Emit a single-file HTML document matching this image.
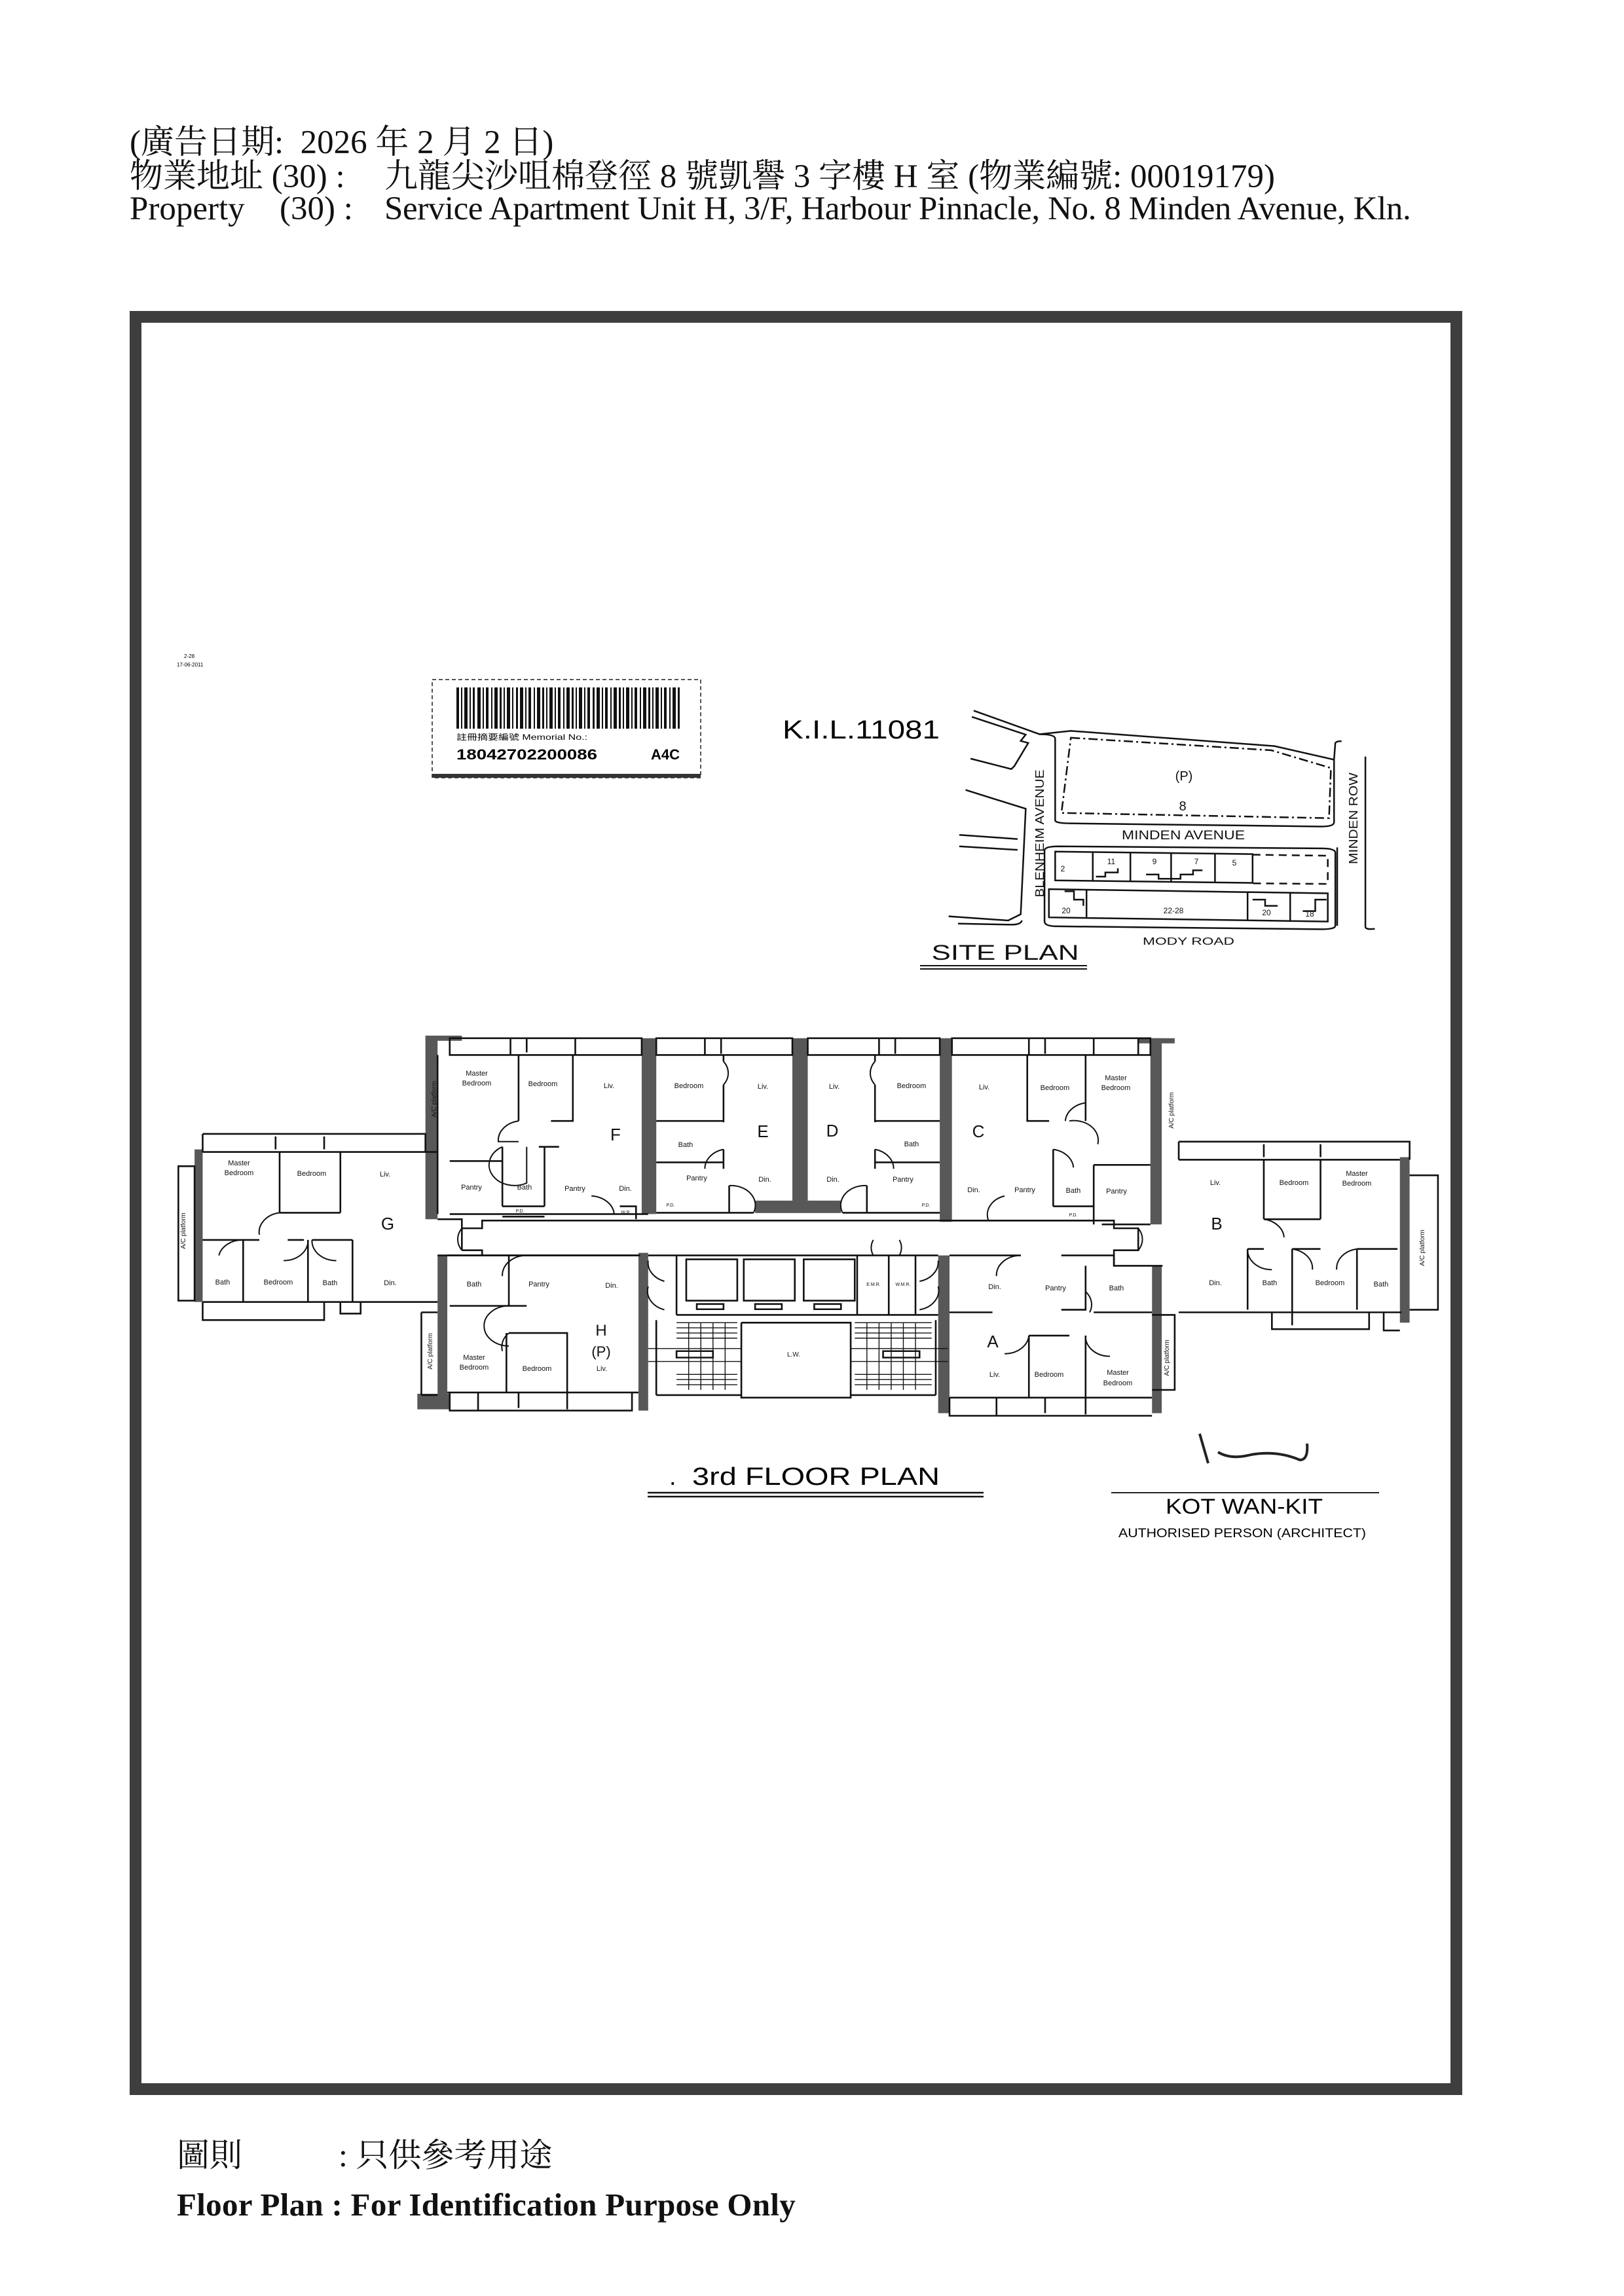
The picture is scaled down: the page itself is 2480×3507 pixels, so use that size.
<!DOCTYPE html>
<html><head><meta charset="utf-8">
<style>
html,body{margin:0;padding:0;background:#fff;}
body{width:2480px;height:3507px;position:relative;overflow:hidden;}
.t{position:absolute;white-space:nowrap;color:#111;}
.serif{font-family:"Liberation Serif","Noto Serif CJK SC","Noto Sans CJK TC",serif;}
</style></head><body>

<div class="t serif" style="left:198px;top:189px;font-size:51px;line-height:58px;">(廣告日期:&nbsp;&nbsp;2026 年 2 月 2 日)</div>
<div class="t serif" style="left:198px;top:241px;font-size:51px;line-height:58px;">物業地址&nbsp;(30) :</div>
<div class="t serif" style="left:587px;top:241px;font-size:51px;line-height:58px;">九龍尖沙咀棉登徑 8 號凱譽 3 字樓 H 室 (物業編號: 00019179)</div>
<div class="t serif" style="left:198px;top:290px;font-size:51px;line-height:58px;">Property</div>
<div class="t serif" style="left:427px;top:290px;font-size:51px;line-height:58px;">(30) :</div>
<div class="t serif" style="left:587px;top:290px;font-size:51px;line-height:58px;letter-spacing:-0.4px;">Service Apartment Unit H, 3/F, Harbour Pinnacle, No. 8 Minden Avenue, Kln.</div>

<svg width="2480" height="3507" style="position:absolute;left:0;top:0" xmlns="http://www.w3.org/2000/svg" font-family="Liberation Sans, sans-serif">
<rect x="207" y="484" width="2017" height="2707" fill="none" stroke="#3e3e3e" stroke-width="18"/>

<text x="281" y="1005" font-size="8">2-28</text>
<text x="270" y="1018" font-size="8">17-06-2011</text>

<rect x="660" y="1038" width="410" height="150" fill="none" stroke="#555" stroke-width="2" stroke-dasharray="6 4"/>
<rect x="660" y="1182" width="410" height="6" fill="#333"/>
<g fill="#111">
<rect x="697" y="1050" width="4" height="63"/><rect x="704" y="1050" width="2" height="63"/><rect x="709" y="1050" width="5" height="63"/><rect x="717" y="1050" width="2" height="63"/><rect x="722" y="1050" width="3" height="63"/><rect x="729" y="1050" width="5" height="63"/><rect x="737" y="1050" width="2" height="63"/><rect x="742" y="1050" width="4" height="63"/><rect x="750" y="1050" width="2" height="63"/><rect x="755" y="1050" width="5" height="63"/><rect x="763" y="1050" width="3" height="63"/><rect x="769" y="1050" width="2" height="63"/><rect x="774" y="1050" width="5" height="63"/><rect x="782" y="1050" width="2" height="63"/><rect x="788" y="1050" width="3" height="63"/><rect x="794" y="1050" width="5" height="63"/><rect x="802" y="1050" width="2" height="63"/><rect x="807" y="1050" width="4" height="63"/><rect x="815" y="1050" width="2" height="63"/><rect x="820" y="1050" width="5" height="63"/><rect x="828" y="1050" width="3" height="63"/><rect x="834" y="1050" width="2" height="63"/><rect x="839" y="1050" width="5" height="63"/><rect x="847" y="1050" width="2" height="63"/><rect x="852" y="1050" width="4" height="63"/><rect x="860" y="1050" width="2" height="63"/><rect x="865" y="1050" width="5" height="63"/><rect x="873" y="1050" width="3" height="63"/><rect x="879" y="1050" width="2" height="63"/><rect x="884" y="1050" width="5" height="63"/><rect x="892" y="1050" width="2" height="63"/><rect x="897" y="1050" width="4" height="63"/><rect x="905" y="1050" width="3" height="63"/><rect x="911" y="1050" width="5" height="63"/><rect x="919" y="1050" width="2" height="63"/><rect x="924" y="1050" width="4" height="63"/><rect x="932" y="1050" width="2" height="63"/><rect x="937" y="1050" width="5" height="63"/><rect x="945" y="1050" width="3" height="63"/><rect x="951" y="1050" width="2" height="63"/><rect x="956" y="1050" width="5" height="63"/><rect x="964" y="1050" width="2" height="63"/><rect x="969" y="1050" width="4" height="63"/><rect x="977" y="1050" width="2" height="63"/><rect x="982" y="1050" width="5" height="63"/><rect x="990" y="1050" width="3" height="63"/><rect x="996" y="1050" width="2" height="63"/><rect x="1001" y="1050" width="5" height="63"/><rect x="1009" y="1050" width="2" height="63"/><rect x="1014" y="1050" width="4" height="63"/><rect x="1022" y="1050" width="2" height="63"/><rect x="1027" y="1050" width="5" height="63"/><rect x="1035" y="1050" width="3" height="63"/>
</g>
<text x="697" y="1130" font-size="12" font-family="Liberation Sans, Noto Sans CJK TC, sans-serif" textLength="200" lengthAdjust="spacingAndGlyphs">註冊摘要編號 Memorial No.:</text>
<text x="697" y="1160" font-size="22" font-weight="bold" textLength="215" lengthAdjust="spacingAndGlyphs">18042702200086</text>
<text x="994" y="1160" font-size="22" font-weight="bold">A4C</text>

<text x="1195" y="1128" font-size="40" textLength="240" lengthAdjust="spacingAndGlyphs">K.I.L.11081</text>

<g transform="translate(640,1020) scale(0.957,0.319)" fill="none" stroke="#111" stroke-width="2.5">
<path vector-effect="non-scaling-stroke" d="M885 205 L990 318 L1040 302 L1365 375 L1460 440 L1462 360 Q1465 350 1472 352"/>
<path vector-effect="non-scaling-stroke" d="M882 235 L968 320 L960 350 L972 360 L950 470 L945 485 L880 435"/>
<path vector-effect="non-scaling-stroke" d="M990 318 Q1015 318 1015 340 L1015 730 Q1015 745 1040 745 L1440 760 Q1460 760 1460 740 L1460 440"/>
<path vector-effect="non-scaling-stroke" stroke-dasharray="14 5 3 5" d="M1040 335 L1360 395 L1455 480 L1452 720 L1025 695 Z"/>
<path vector-effect="non-scaling-stroke" d="M872 585 L968 675 L960 1180 L940 1210 L845 1190"/>
<path vector-effect="non-scaling-stroke" d="M862 800 L955 820 M862 855 L955 872"/>
<path vector-effect="non-scaling-stroke" d="M860 1225 L945 1230 Q960 1230 962 1210"/>
<path vector-effect="non-scaling-stroke" d="M1020 855 L1440 865 Q1462 865 1462 885 L1462 1235 Q1462 1252 1440 1252 L1020 1238 Q998 1238 998 1215 L998 875 Q998 855 1020 855"/>
<path vector-effect="non-scaling-stroke" d="M1015 880 L1330 892 L1330 1030 L1015 1018 Z M1075 882 L1075 1020 M1135 884 L1135 1022 M1200 886 L1200 1026 M1270 888 L1270 1028"/>
<path vector-effect="non-scaling-stroke" d="M1080 1000 L1095 1000 L1095 980 L1115 980 L1115 960 M1160 990 L1180 990 L1180 1010 L1215 1010 L1215 990 L1235 990 L1235 970 L1250 970"/>
<path vector-effect="non-scaling-stroke" stroke-dasharray="12 8" d="M1330 895 L1450 900 L1450 1035 L1330 1032"/>
<path vector-effect="non-scaling-stroke" d="M1005 1060 L1450 1080 L1450 1215 L1005 1195 Z M1065 1064 L1065 1196 M1322 1075 L1322 1210 M1390 1078 L1390 1212"/>
<path vector-effect="non-scaling-stroke" d="M1030 1070 L1045 1070 L1045 1110 L1060 1110 L1060 1140 M1330 1110 L1350 1110 L1350 1140 L1370 1140 M1410 1165 L1430 1165 L1430 1110 L1448 1110"/>
<path vector-effect="non-scaling-stroke" d="M1465 860 L1465 1235 M1510 425 L1510 1240 Q1510 1255 1525 1250"/>
</g>
<g font-size="18" fill="#111" text-anchor="middle">
<text x="1808" y="1192" font-size="20">(P)</text>
<text x="1806" y="1238" font-size="20">8</text>
<text x="1807" y="1282" font-size="19" textLength="188" lengthAdjust="spacingAndGlyphs">MINDEN AVENUE</text>
<text transform="translate(1594,1273) rotate(-90)" font-size="18" textLength="195" lengthAdjust="spacingAndGlyphs">BLENHEIM AVENUE</text>
<text transform="translate(2073,1250) rotate(-90)" font-size="18" textLength="140" lengthAdjust="spacingAndGlyphs">MINDEN ROW</text>
<text x="1623" y="1331" font-size="12">2</text>
<text x="1697" y="1320" font-size="12">11</text>
<text x="1763" y="1320" font-size="12">9</text>
<text x="1827" y="1320" font-size="12">7</text>
<text x="1885" y="1322" font-size="12">5</text>
<text x="1628" y="1395" font-size="12">20</text>
<text x="1792" y="1395" font-size="12">22-28</text>
<text x="1934" y="1398" font-size="12">20</text>
<text x="2000" y="1400" font-size="12">18</text>
<text x="1815" y="1443" font-size="16" textLength="140" lengthAdjust="spacingAndGlyphs">MODY ROAD</text>
<text x="1535" y="1466" font-size="32" textLength="225" lengthAdjust="spacingAndGlyphs">SITE PLAN</text>
</g>
<path d="M1405 1475 H1660 M1405 1480 H1660" stroke="#111" stroke-width="2"/>

<g transform="translate(260,1570) scale(1.237,0.395)">
<g fill="#585858">
<rect x="315" y="40" width="15" height="700"/>
<rect x="582" y="40" width="18" height="680"/>
<rect x="768" y="40" width="19" height="640"/>
<rect x="722" y="668" width="106" height="48"/>
<rect x="950" y="40" width="15" height="710"/>
<rect x="1210" y="40" width="14" height="720"/>
<rect x="30" y="470" width="10" height="590"/>
<rect x="1518" y="500" width="12" height="640"/>
<rect x="330" y="880" width="12" height="590"/>
<rect x="578" y="870" width="12" height="610"/>
<rect x="948" y="880" width="14" height="610"/>
<rect x="1212" y="920" width="12" height="570"/>
<rect x="315" y="30" width="45" height="20"/>
<rect x="1195" y="40" width="45" height="20"/>
<rect x="305" y="1415" width="40" height="60"/>
</g>
<g fill="none" stroke="#111" stroke-width="2.6">
<rect vector-effect="non-scaling-stroke" x="345" y="40" width="237" height="65"/>
<rect vector-effect="non-scaling-stroke" x="600" y="40" width="168" height="65"/>
<rect vector-effect="non-scaling-stroke" x="787" y="40" width="163" height="65"/>
<rect vector-effect="non-scaling-stroke" x="965" y="40" width="245" height="65"/>
<path vector-effect="non-scaling-stroke" d="M420 40 V105 M440 40 V95 M500 40 V105 M660 40 V105 M680 40 V100 M875 40 V105 M895 40 V100 M1060 40 V105 M1080 40 V100 M1140 40 V105 M1195 40 V105"/>
<path vector-effect="non-scaling-stroke" d="M330 105 V720 M430 105 V360 M497 105 V360 H470 M345 515 H410 M410 460 V690 M462 460 V690 M410 690 H462 M345 720 H590 M410 730 H462 M555 690 H575 V740 M455 460 H480"/>
<path vector-effect="non-scaling-stroke" d="M683 105 V130 M683 220 V365 M600 360 H683 M683 470 V545 M600 520 H683 M600 715 H720 M690 610 V715"/>
<path vector-effect="non-scaling-stroke" d="M870 105 V130 M870 220 V365 M870 360 H950 M870 470 V545 M870 520 H950 M830 715 H950 M860 610 V715"/>
<path vector-effect="non-scaling-stroke" d="M1058 105 V360 H1085 M1130 105 V360 M1090 470 V690 M1140 530 V760 M1140 530 H1210 M1090 690 H1140 M965 745 H1140 M1150 760 H1210"/>
<path vector-effect="non-scaling-stroke" d="M40 480 H330 M40 410 H315 V480 M40 410 V480 M135 480 V715 M210 480 V715 M135 715 H210 M40 820 H110 M145 820 H165 M175 820 H225 M90 820 V1060 M170 820 V1060 M225 820 V1060 M40 1060 H330 M40 1060 V1130 H190 V1060 M210 1060 V1105 H235 V1060 M10 535 H30 V1055 H10 Z M130 420 V470 M190 420 V470"/>
<path vector-effect="non-scaling-stroke" d="M1245 510 H1518 M1245 440 H1530 V510 M1245 440 V510 M1350 510 V740 M1420 510 V740 M1350 740 H1420 M1330 855 H1350 M1385 855 H1420 M1465 855 H1515 M1330 855 V1090 M1385 855 V1150 M1465 855 V1090 M1245 1100 H1520 M1360 1100 V1165 H1480 V1100 M1498 1100 V1170 H1518 M1530 570 H1565 V1090 H1530 M1350 450 V500 M1420 450 V500"/>
<path vector-effect="non-scaling-stroke" d="M330 740 H360 V775 H385 V745 H1165 V775 H1195 V860 H1165 V920 H1225 M360 860 H385 V880 H330 M360 775 V860 M385 880 H580"/>
<path vector-effect="non-scaling-stroke" d="M342 880 H578 M418 880 V1075 M345 1075 H440 M418 1180 H490 V1410 M415 1180 V1410 M342 1410 H578 M345 1410 V1480 H570 V1410 M310 1100 H330 M310 1100 V1420 M310 1420 H330 M380 1410 V1480 M430 1410 V1470 M490 1410 V1475"/>
<path vector-effect="non-scaling-stroke" d="M590 880 H948 M625 880 V1110 M625 1110 H948 M848 880 V1110 M887 880 V1110 M920 880 V1110 M705 1140 V1430 H840 V1140 H705 M600 1130 V1420 M945 1130 V1420 M600 1420 H705 M840 1420 H945"/>
<rect vector-effect="non-scaling-stroke" x="637" y="895" width="63" height="160"/>
<rect vector-effect="non-scaling-stroke" x="708" y="895" width="63" height="160"/>
<rect vector-effect="non-scaling-stroke" x="782" y="895" width="63" height="160"/>
<rect vector-effect="non-scaling-stroke" x="650" y="1068" width="33" height="20"/>
<rect vector-effect="non-scaling-stroke" x="722" y="1068" width="33" height="20"/>
<rect vector-effect="non-scaling-stroke" x="795" y="1068" width="33" height="20"/>
<path vector-effect="non-scaling-stroke" stroke-width="1.4" d="M625 1140 H700 M625 1160 H700 M625 1180 H700 M625 1200 H700 M625 1340 H700 M625 1360 H700 M625 1380 H700 M845 1140 H940 M845 1160 H940 M845 1180 H940 M845 1200 H940 M845 1340 H940 M845 1360 H940 M845 1380 H940 M640 1140 V1400 M655 1140 V1400 M670 1140 V1400 M685 1140 V1400 M860 1140 V1400 M875 1140 V1400 M890 1140 V1400 M905 1140 V1400 M920 1140 V1400 M590 1240 H705 M590 1290 H705 M840 1240 H960 M840 1290 H960"/>
<rect vector-effect="non-scaling-stroke" x="625" y="1250" width="45" height="25"/>
<rect vector-effect="non-scaling-stroke" x="880" y="1250" width="45" height="25"/>
<path vector-effect="non-scaling-stroke" d="M962 880 H1050 M1100 880 H1165 V920 M1130 920 V1090 H1100 M962 1100 H1015 M1060 1190 V1430 M1130 1190 V1430 M1060 1190 H1110 M1140 1100 H1212 M962 1430 H1212 M962 1430 V1500 H1212 M1020 1430 V1500 M1080 1430 V1490 M1130 1430 V1495 M1212 1110 H1240 V1400 H1212"/>
<path vector-effect="non-scaling-stroke" stroke-width="2" d="M430 360 A30 76 0 0 0 405 440 H430 M410 460 A30 76 0 0 0 440 600 V460 M520 650 A30 76 0 0 1 548 720 M690 610 A30 76 0 0 1 720 715 M860 610 A30 76 0 0 0 830 715 M683 130 A30 76 0 0 1 683 220 M870 130 A30 76 0 0 0 870 220 M683 470 A30 76 0 0 0 660 545 M870 470 A30 76 0 0 1 893 545 M1130 290 A30 76 0 0 0 1105 360 M1110 360 A30 76 0 0 1 1145 450 M1090 470 A30 76 0 0 1 1115 540 M1030 650 A30 76 0 0 0 1010 745 M360 775 A30 76 0 0 0 360 860 M1195 775 A30 76 0 0 1 1195 860 M135 715 A30 76 0 0 0 110 800 M90 820 A30 76 0 0 0 60 880 M170 820 A30 76 0 0 1 140 900 M175 820 A30 76 0 0 0 205 900 M1350 740 A30 76 0 0 1 1375 810 M1330 855 A30 76 0 0 0 1360 935 M1385 855 A30 76 0 0 1 1410 935 M1465 855 A30 76 0 0 0 1440 935 M418 1075 A30 76 0 0 0 418 1230 M418 1180 A30 76 0 0 0 410 1250 M1130 1020 A30 76 0 0 1 1135 1100 M1130 1190 A30 76 0 0 0 1160 1270 M1060 1190 A30 76 0 0 1 1030 1260 M1050 880 A30 76 0 0 0 1020 960 M440 880 A30 76 0 0 0 410 960 M590 900 A30 76 0 0 0 610 980 M948 900 A30 76 0 0 1 925 980 M590 1000 A30 76 0 0 0 610 1090 M948 1000 A30 76 0 0 1 925 1090 M868 880 A20 60 0 0 1 868 820 M900 880 A20 60 0 0 0 900 820"/>
</g>
</g>

<g font-size="11" fill="#111" text-anchor="middle">
<text x="365" y="1780">Master</text><text x="365" y="1795">Bedroom</text>
<text x="476" y="1796">Bedroom</text><text x="588" y="1797">Liv.</text>
<text x="592" y="1878" font-size="26">G</text>
<text x="340" y="1962">Bath</text><text x="425" y="1962">Bedroom</text><text x="504" y="1963">Bath</text><text x="596" y="1963">Din.</text>
<text x="728" y="1643">Master</text><text x="728" y="1658">Bedroom</text><text x="829" y="1659">Bedroom</text><text x="930" y="1662">Liv.</text>
<text x="940" y="1742" font-size="26">F</text>
<text x="720" y="1817">Pantry</text><text x="801" y="1817">Bath</text><text x="878" y="1819">Pantry</text><text x="955" y="1819">Din.</text>
<text x="794" y="1852" font-size="7">P.D.</text><text x="956" y="1854" font-size="7">W.R.</text>
<text x="1052" y="1662">Bedroom</text><text x="1165" y="1663">Liv.</text>
<text x="1165" y="1737" font-size="26">E</text>
<text x="1047" y="1752">Bath</text><text x="1064" y="1803">Pantry</text><text x="1168" y="1805">Din.</text><text x="1024" y="1843" font-size="7">P.D.</text>
<text x="1274" y="1663">Liv.</text><text x="1392" y="1662">Bedroom</text>
<text x="1271" y="1736" font-size="26">D</text>
<text x="1392" y="1751">Bath</text><text x="1272" y="1805">Din.</text><text x="1379" y="1805">Pantry</text><text x="1414" y="1843" font-size="7">P.D.</text>
<text x="1503" y="1664">Liv.</text><text x="1611" y="1665">Bedroom</text><text x="1704" y="1650">Master</text><text x="1704" y="1665">Bedroom</text>
<text x="1494" y="1737" font-size="26">C</text>
<text x="1487" y="1821">Din.</text><text x="1565" y="1821">Pantry</text><text x="1639" y="1822">Bath</text><text x="1705" y="1823">Pantry</text><text x="1639" y="1858" font-size="7">P.D.</text>
<text x="1856" y="1810">Liv.</text><text x="1976" y="1810">Bedroom</text><text x="2072" y="1796">Master</text><text x="2072" y="1811">Bedroom</text>
<text x="1858" y="1878" font-size="26">B</text>
<text x="1856" y="1963">Din.</text><text x="1939" y="1963">Bath</text><text x="2031" y="1963">Bedroom</text><text x="2109" y="1965">Bath</text>
<text x="724" y="1965">Bath</text><text x="823" y="1965">Pantry</text><text x="934" y="1967">Din.</text>
<text x="918" y="2040" font-size="24">H</text><text x="918" y="2072" font-size="22">(P)</text>
<text x="724" y="2077">Master</text><text x="724" y="2092">Bedroom</text><text x="820" y="2094">Bedroom</text><text x="919" y="2094">Liv.</text>
<text x="1519" y="1969">Din.</text><text x="1612" y="1971">Pantry</text><text x="1705" y="1971">Bath</text>
<text x="1516" y="2058" font-size="26">A</text>
<text x="1519" y="2103">Liv.</text><text x="1602" y="2103">Bedroom</text><text x="1707" y="2100">Master</text><text x="1707" y="2116">Bedroom</text>
<text x="1212" y="2072" font-size="10">L.W.</text>
<text x="1334" y="1964" font-size="7">E.M.R.</text><text x="1379" y="1964" font-size="7">W.M.R.</text>
<g font-size="10">
<text transform="translate(283,1880) rotate(-90)">A/C platform</text>
<text transform="translate(666,1679) rotate(-90)">A/C platform</text>
<text transform="translate(1792,1696) rotate(-90)">A/C platform</text>
<text transform="translate(2175,1906) rotate(-90)">A/C platform</text>
<text transform="translate(660,2064) rotate(-90)">A/C platform</text>
<text transform="translate(1785,2074) rotate(-90)">A/C platform</text>
</g>
</g>

<text x="1022" y="2268" font-size="38">.</text>
<text x="1057" y="2268" font-size="38" textLength="378" lengthAdjust="spacingAndGlyphs">3rd FLOOR PLAN</text>
<path d="M989 2280 H1502 M989 2286 H1502" stroke="#111" stroke-width="2.5"/>
<path d="M1832 2190 L1845 2235 M1860 2218 Q1880 2230 1910 2222 Q1950 2215 1985 2230 Q1998 2230 1996 2205" fill="none" stroke="#222" stroke-width="4"/>
<path d="M1697 2280 H2106" stroke="#222" stroke-width="2"/>
<text x="1900" y="2312" font-size="32" text-anchor="middle" textLength="240" lengthAdjust="spacingAndGlyphs">KOT WAN-KIT</text>
<text x="1897" y="2348" font-size="19" text-anchor="middle" textLength="378" lengthAdjust="spacingAndGlyphs">AUTHORISED PERSON (ARCHITECT)</text>
</svg>

<div class="t serif" style="left:270px;top:3262px;font-size:50px;line-height:60px;">圖則</div>
<div class="t serif" style="left:517px;top:3262px;font-size:50px;line-height:60px;">: 只供參考用途</div>
<div class="t serif" style="left:270px;top:3338px;font-size:49px;line-height:60px;font-weight:bold;letter-spacing:0.3px;">Floor Plan : For Identification Purpose Only</div>
</body></html>
